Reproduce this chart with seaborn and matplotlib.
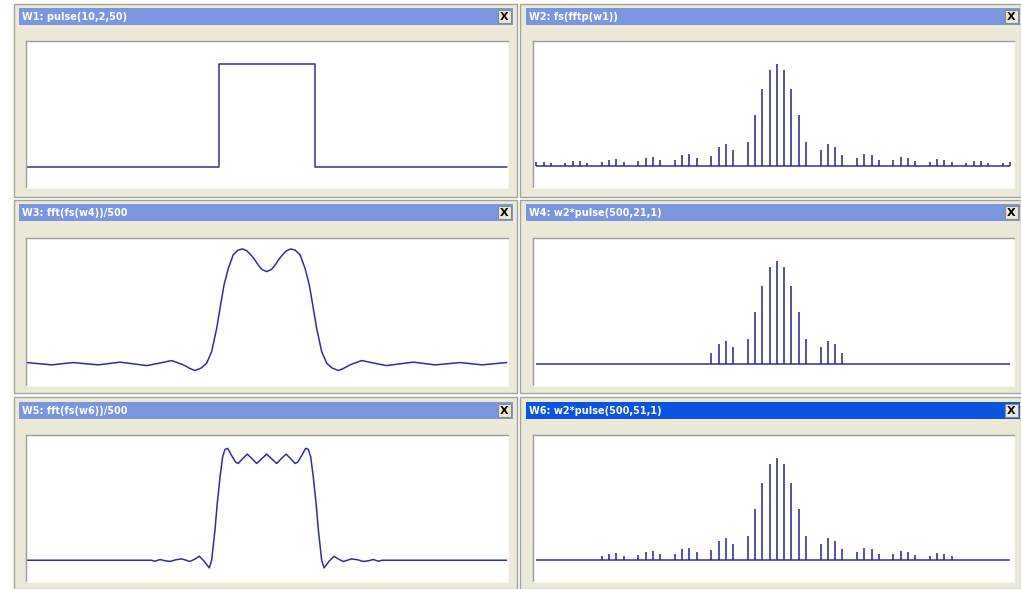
import matplotlib
matplotlib.use("Agg")
import numpy as np
import matplotlib.pyplot as plt
from matplotlib.patches import Rectangle
import seaborn as sns

# window titles
titles = ["W1: pulse(10,2,50)", "W2: fs(fftp(w1))",
          "W3: fft(fs(w4))/500", "W4: w2*pulse(500,21,1)",
          "W5: fft(fs(w6))/500", "W6: w2*pulse(500,51,1)"]

# W1: the pulse, one value per sample
pulse_x = list(range(51))
pulse_y = [0, 0, 0, 0, 0, 0, 0, 0, 0, 0,
           0, 0, 0, 0, 0, 0, 0, 0, 0, 0,
           1, 1, 1, 1, 1, 1, 1, 1, 1, 1,
           0, 0, 0, 0, 0, 0, 0, 0, 0, 0,
           0, 0, 0, 0, 0, 0, 0, 0, 0, 0, 0]

# W2: spectrum magnitude per harmonic
harmonics = list(range(-33, 33))
spectrum = [0.0091, 0.0091, 0.0071, 0.0, 0.0071, 0.0110, 0.0110, 0.0071, 0.0,
            0.0084, 0.0123, 0.0149, 0.0084, 0.0, 0.0110, 0.0169, 0.0188, 0.0123, 0.0,
            0.0123, 0.0227, 0.0247, 0.0169, 0.0, 0.0208, 0.0383, 0.0441, 0.0325, 0.0,
            0.0474, 0.1006, 0.1506, 0.1880,
            0.2000,
            0.1880, 0.1506, 0.1006, 0.0474, 0.0,
            0.0325, 0.0441, 0.0383, 0.0214, 0.0, 0.0169, 0.0247, 0.0227, 0.0123, 0.0,
            0.0123, 0.0188, 0.0169, 0.0110, 0.0, 0.0084, 0.0149, 0.0123, 0.0084, 0.0,
            0.0071, 0.0110, 0.0110, 0.0071, 0.0, 0.0071, 0.0091]

# W4 / W6 keep the harmonics inside the pulse window
w4_band = 9
w6_band = 24

# W3: reconstruction from W4 (sample position, value)
w3_x = [0.0, 1.3, 2.6, 3.7, 4.85, 6.1, 7.46, 8.6, 9.72, 11.1, 12.5, 13.8, 15.1,
        16.3, 17.0, 17.53, 18.2, 18.75, 19.27, 19.79, 20.14, 20.55, 21.0, 21.52,
        22.04, 22.5, 22.9, 23.3, 23.7, 24.1, 24.5, 25.0,
        25.5, 25.9, 26.3, 26.7, 27.1, 27.5, 27.96, 28.48, 29.0, 29.45, 29.86,
        30.21, 30.73, 31.25, 31.8, 32.47, 33.0, 33.7, 34.9, 36.2, 37.5, 38.9,
        40.28, 41.4, 42.54, 43.9, 45.15, 46.3, 47.4, 48.7, 50.0]
w3_y = [0.006, -0.005, -0.016, -0.005, 0.006, -0.005, -0.016, -0.003, 0.010,
        -0.006, -0.023, 0.0, 0.025, -0.015, -0.050, -0.070, -0.045, 0.0, 0.11,
        0.33, 0.52, 0.74, 0.90, 1.03, 1.075, 1.085, 1.07, 1.035, 0.99, 0.935,
        0.89, 0.87,
        0.89, 0.935, 0.99, 1.035, 1.07, 1.085, 1.075, 1.03, 0.90, 0.74, 0.52,
        0.33, 0.11, 0.0, -0.045, -0.070, -0.050, -0.015, 0.025, 0.0, -0.023,
        -0.006, 0.010, -0.003, -0.016, -0.005, 0.006, -0.005, -0.016, -0.005,
        0.006]

# W5: reconstruction from W6
w5_x = [0.0, 13.0, 13.36, 13.89, 14.4, 14.93, 15.55, 16.15, 16.6, 17.01, 17.5,
        17.98, 18.5, 19.02, 19.27, 19.61, 19.85, 20.14, 20.42, 20.66, 20.94,
        21.35, 21.77, 22.04, 22.5, 22.98, 23.47, 23.96, 24.5, 25.0,
        25.5, 26.04, 26.53, 27.02, 27.5, 27.96, 28.23, 28.65, 29.06, 29.34,
        29.58, 29.86, 30.15, 30.39, 30.73, 30.98, 31.5, 32.02, 32.5, 32.99,
        33.4, 33.85, 34.45, 35.07, 35.6, 36.11, 36.64, 37.0, 50.0]
w5_y = [0.0, 0.0, -0.01, 0.007, -0.005, -0.012, 0.005, 0.013, 0.0, -0.012,
        0.01, 0.039, -0.01, -0.075, 0.0, 0.29, 0.55, 0.81, 1.01, 1.08, 1.09,
        1.02, 0.955, 0.943, 0.99, 1.034, 0.99, 0.943, 0.99, 1.034,
        0.99, 0.943, 0.99, 1.034, 0.99, 0.943, 0.955, 1.02, 1.09, 1.08,
        1.01, 0.81, 0.55, 0.29, 0.0, -0.075, -0.01, 0.039, 0.01, -0.012,
        0.0, 0.013, 0.005, -0.012, -0.005, 0.007, -0.01, 0.0, 0.0]

W, H = 1021, 589
line_col = "#2f2f9c"
stem_col = "#23238f"
body_col = "#ECE9D8"
title_off = "#7A96DF"
title_on = "#0A54E0"

sns.set_style("white")
plt.rcParams["font.family"] = ["DejaVu Sans"]

fig = plt.figure(figsize=(W / 100, H / 100), dpi=100, facecolor="white")
bg = fig.add_axes([0, 0, 1, 1])
bg.set_xlim(0, W)
bg.set_ylim(H, 0)
bg.axis("off")

win_x = [(14, 517), (520, 1021)]
bar_x = [(19, 513), (526, 1020)]
plot_x = [(26, 508), (533, 1014)]
win_y = [(4, 197), (200, 393), (397, 589)]
bar_y = [(8, 25), (204, 221), (402, 419)]
plot_y = [(41, 188), (237.5, 385.5), (435, 582)]


def px_axes(x0, y0, x1, y1):
    return fig.add_axes([x0 / W, 1 - y1 / H, (x1 - x0) / W, (y1 - y0) / H])


axes = []
for i, title in enumerate(titles):
    r, c = divmod(i, 2)
    wx0, wx1 = win_x[c]
    wy0, wy1 = win_y[r]
    bg.add_patch(Rectangle((wx0, wy0), wx1 - wx0, wy1 - wy0, fc=body_col,
                           ec="#a3a39a", lw=1))
    bx0, bx1 = bar_x[c]
    by0, by1 = bar_y[r]
    bg.add_patch(Rectangle((bx0, by0), bx1 - bx0, by1 - by0,
                           fc=title_on if i == 5 else title_off, ec="none"))
    bg.text(bx0 + 2.5, (by0 + by1) / 2 + 0.5, title, color="white",
            fontsize=7.0, fontweight="bold", va="center", ha="left")
    # close button
    bg.add_patch(Rectangle((bx1 - 15, by0 + 2), 13, by1 - by0 - 4, fc=body_col,
                           ec="#8a8a86", lw=0.8))
    bg.text(bx1 - 8.5, (by0 + by1) / 2 + 0.5, "X", color="black", fontsize=8,
            fontweight="bold", va="center", ha="center")

    ax = px_axes(plot_x[c][0], plot_y[r][0], plot_x[c][1], plot_y[r][1])
    ax.set_facecolor("white")
    ax.set_xticks([])
    ax.set_yticks([])
    ax.spines["top"].set_color("#9c9c98")
    ax.spines["left"].set_color("#9c9c98")
    ax.spines["right"].set_color("#f6f5f0")
    ax.spines["bottom"].set_color("#f6f5f0")
    for s in ax.spines.values():
        s.set_linewidth(1.0)
    axes.append(ax)

# W1
sns.lineplot(x=pulse_x, y=pulse_y, ax=axes[0], color=line_col, lw=1.1,
             drawstyle="steps-post", estimator=None, errorbar=None)
axes[0].set_xlim(-0.07, 50.14)
axes[0].set_ylim(-0.204, 1.223)

# spectra
spec = np.array(spectrum)
k = np.array(harmonics)
spec_sets = [(1, spec), (3, np.where(np.abs(k) <= w4_band, spec, 0.0)),
             (5, np.where(np.abs(k) <= w6_band, spec, 0.0))]
for idx, vals in spec_sets:
    ax = axes[idx]
    ax.hlines(0, k.min(), k.max(), color=line_col, lw=1.1)
    ax.vlines(k, 0, vals, color=stem_col, lw=1.1)
    ax.set_xlim(-33.45, 32.54)
    ax.set_ylim(-0.042, 0.2447)

# W3 and W5
sns.lineplot(x=w3_x, y=w3_y, ax=axes[2], color=line_col, lw=1.1,
             estimator=None, errorbar=None)
axes[2].set_xlim(-0.07, 50.14)
axes[2].set_ylim(-0.212, 1.194)

sns.lineplot(x=w5_x, y=w5_y, ax=axes[4], color=line_col, lw=1.1,
             estimator=None, errorbar=None)
axes[4].set_xlim(-0.07, 50.14)
axes[4].set_ylim(-0.212, 1.22)

for ax in axes:
    ax.set_xlabel("")
    ax.set_ylabel("")

fig.savefig("out.png", dpi=100, facecolor="white")
